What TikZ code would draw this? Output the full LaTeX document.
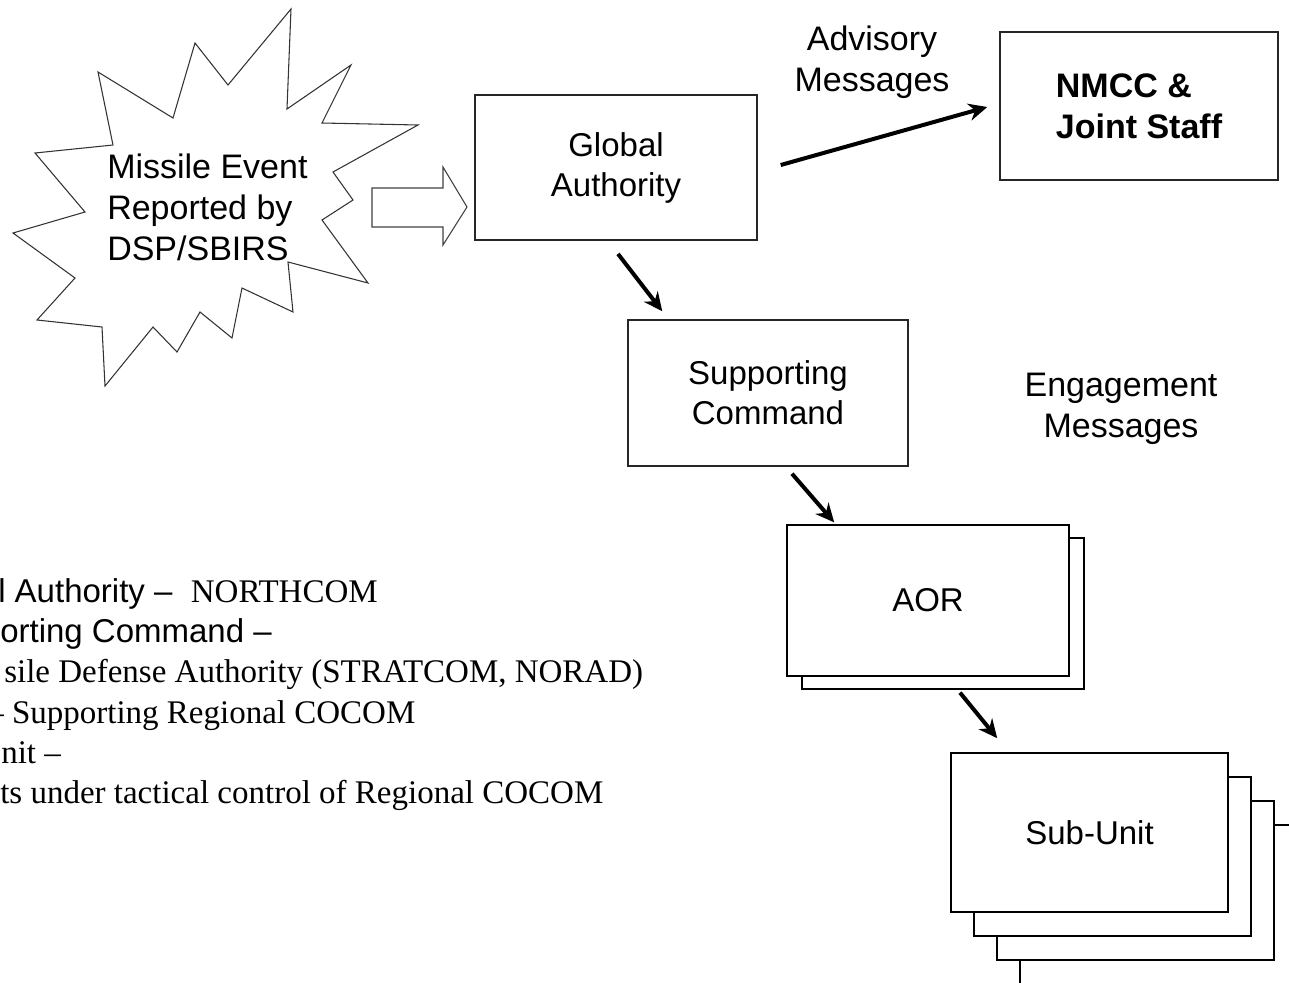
\documentclass[tikz,border=0pt]{standalone}
\usepackage{fontspec}
\setmainfont{Liberation Serif}
\setsansfont{Liberation Sans}
\usetikzlibrary{arrows.meta}
\newcommand*{\bigtext}{\fontsize{24.75}{30}\selectfont}
\newcommand*{\burstsize}{\fontsize{25.5}{30.75}\selectfont}

\begin{document}
\begin{tikzpicture}[x=0.75pt, y=-0.75pt,
    box/.style={draw=black!85, line width=1.1pt, fill=white,
      minimum width=211.5pt, minimum height=109pt, align=center,
      font=\sffamily\bigtext},
    stackbox/.style={box, draw=black, line width=1.2pt},
    msg/.style={line width=3pt, -{Stealth[length=14pt, width=13pt]}},
    msglabel/.style={font=\sffamily\burstsize, align=center},
    note/.style={anchor=base west, inner sep=0pt, font=\rmfamily\bigtext}]
  \clip (0,0) rectangle (1289,982);

  % missile event burst
  \draw[black!80, line width=0.8pt]
    (291,9) -- (287,109) -- (351,65) -- (322,123) -- (418,125)
    -- (333,172) -- (353,200) -- (322,220) -- (368,283) -- (288,262)
    -- (293,312) -- (242,288) -- (232,338) -- (200,312) -- (177,352)
    -- (153,327) -- (105,386) -- (102,327) -- (37,320) -- (75,278)
    -- (13,233) -- (85,212) -- (35,153) -- (113,145) -- (98,72)
    -- (173,118) -- (195,43) -- (228,85) -- cycle;
  \node[msglabel, align=left, anchor=west, inner sep=0pt] (event) at (107,207)
    {Missile Event\\Reported by\\DSP/SBIRS};

  % hollow arrow into the global authority
  \draw[black!75, line width=0.8pt]
    (372,188) -- (443,188) -- (443,167) -- (467,207) -- (443,245)
    -- (443,227) -- (372,227) -- cycle;

  \node[box] (ga) at (616,167.5) {Global\\Authority};
  \node[box, minimum width=208.5pt, minimum height=111pt, align=left,
    font=\sffamily\bfseries\burstsize] (nmcc) at (1139,106) {NMCC \&\\Joint Staff};
  \node[box, minimum width=210pt, minimum height=109.5pt] (sc) at (768,393)
    {Supporting\\Command};

  \node[stackbox, minimum height=113pt] (aorback) at (943,613.5) {};
  \node[stackbox, minimum height=113pt] (aor) at (928,600.5) {AOR};

  \foreach \k in {3,2,1}
  {
    \node[stackbox, minimum width=207.75pt, minimum height=119.25pt] (su\k)
      at ({1089.5+23*\k},{832.5+24*\k}) {};
  }
  \node[stackbox, minimum width=207.75pt, minimum height=119.25pt] (su)
    at (1089.5,832.5) {Sub-Unit};

  \node[msglabel] (adv) at (872,62) {Advisory\\Messages};
  \node[msglabel] (eng) at (1121,409) {Engagement\\Messages};

  \draw[msg] ([shift={(23,-2.5)}]ga.east) -- ([shift={(-12,1)}]nmcc.west);
  \draw[msg] ([shift={(2,13)}]ga.south) -- ([shift={(35,-8)}]sc.north west);
  \draw[msg] ([shift={(24,7)}]sc.south) -- ([shift={(48,-2)}]aor.north west);
  \draw[msg] ([shift={(32,16)}]aor.south) -- ([shift={(47,-14)}]su.north west);

  % legend lines, cut at the left edge
  \node[note] (n1) at (-2,602) {\sffamily l Authority –\ \ {\rmfamily NORTHCOM}};
  \node[note] (n2) at (0,642) {\sffamily orting Command –};
  \node[note] (n3) at (4,682) {sile Defense Authority (STRATCOM, NORAD)};
  \node[note] (n4) at (-13,723) {– Supporting Regional COCOM};
  \node[note] (n5) at (1,763) {nit –};
  \node[note] (n6) at (0,803) {ts under tactical control of Regional COCOM};
\end{tikzpicture}
\end{document}
